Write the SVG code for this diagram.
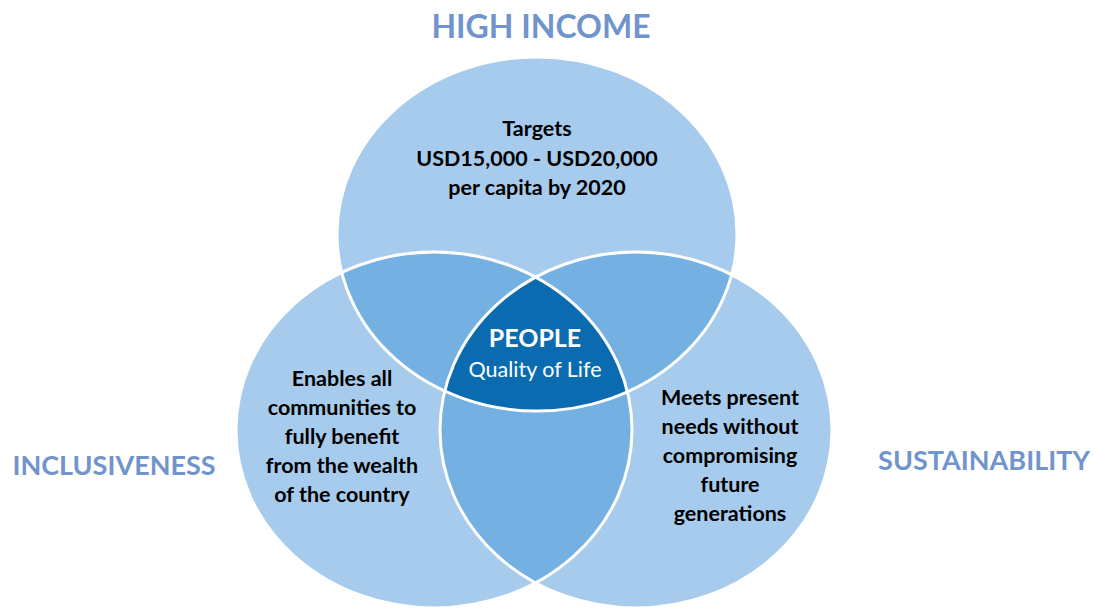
<svg xmlns="http://www.w3.org/2000/svg" width="1095" height="608" viewBox="0 0 1095 608">
<style>
.title{font-family:Lato,"Open Sans","Liberation Sans",sans-serif;font-weight:bold;font-size:32px;fill:#7094CB;text-anchor:middle}
.body{font-family:Lato,"Open Sans","Liberation Sans",sans-serif;font-weight:bold;font-size:21.5px;fill:#000;text-anchor:middle}
.light{fill:#A6CBEC}
.mid{fill:#74B0E1}
.dark{fill:#0B6BB0}
.edge{fill:none;stroke:#fff;stroke-width:3}
</style>
<defs>
<ellipse id="eT" cx="537" cy="234" rx="200" ry="177"/>
<ellipse id="eL" cx="434" cy="430" rx="198" ry="178"/>
<ellipse id="eR" cx="636" cy="430" rx="196" ry="178"/>
<clipPath id="cT"><use href="#eT"/></clipPath>
<clipPath id="cL"><use href="#eL"/></clipPath>
<clipPath id="cR"><use href="#eR"/></clipPath>
</defs>
<rect width="1095" height="608" fill="#fff"/>
<g id="node-high-income">
<use href="#eT" class="light"/>
<text class="title" x="541" y="38">HIGH INCOME</text>
<text class="body" x="537" y="136">Targets</text>
<text class="body" x="537" y="166">USD15,000 - USD20,000</text>
<text class="body" x="537" y="195">per capita by 2020</text>
</g>
<g id="node-inclusiveness">
<use href="#eL" class="light"/>
<text class="title" x="114" y="475" style="font-size:27px">INCLUSIVENESS</text>
</g>
<g id="node-sustainability">
<use href="#eR" class="light"/>
<text class="title" x="984" y="470" style="font-size:27px">SUSTAINABILITY</text>
</g>
<g id="overlaps">
<g clip-path="url(#cT)"><use href="#eL" class="mid"/><use href="#eR" class="mid"/></g>
<g clip-path="url(#cL)"><use href="#eR" class="mid"/></g>
<g clip-path="url(#cT)"><g clip-path="url(#cL)"><use href="#eR" class="dark"/></g></g>
</g>
<g id="outlines">
<use href="#eT" class="edge"/>
<use href="#eL" class="edge"/>
<use href="#eR" class="edge"/>
</g>
<g id="node-left-text">
<text class="body" x="342" y="386">Enables all</text>
<text class="body" x="342" y="415">communities to</text>
<text class="body" x="342" y="444">fully benefit</text>
<text class="body" x="342" y="473">from the wealth</text>
<text class="body" x="342" y="502">of the country</text>
</g>
<g id="node-right-text">
<text class="body" x="730" y="405">Meets present</text>
<text class="body" x="730" y="434">needs without</text>
<text class="body" x="730" y="463">compromising</text>
<text class="body" x="730" y="492">future</text>
<text class="body" x="730" y="521">generations</text>
</g>
<g id="node-people">
<text x="535" y="347" style="font-family:Lato,'Open Sans','Liberation Sans',sans-serif;font-weight:bold;font-size:25px;fill:#fff;text-anchor:middle">PEOPLE</text>
<text x="535" y="377" style="font-family:Lato,'Open Sans','Liberation Sans',sans-serif;font-size:21.5px;fill:#fff;text-anchor:middle">Quality of Life</text>
</g>
<g id="connectors"/>
</svg>
